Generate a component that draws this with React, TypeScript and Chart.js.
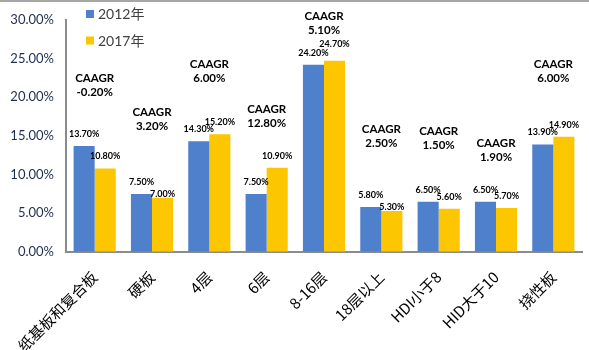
import { useEffect, useRef } from "react";
import { Chart, registerables } from "chart.js";

Chart.register(...registerables);

const categories = ["纸基板和复合板", "硬板", "4层", "6层", "8-16层", "18层以上", "HDI小于8", "HID大于10", "挠性板"];
const seriesNames = ["2012年", "2017年"];
const share2012 = [13.7, 7.5, 14.3, 7.5, 24.2, 5.8, 6.5, 6.5, 13.9];
const share2017 = [10.8, 7.0, 15.2, 10.9, 24.7, 5.3, 5.6, 5.7, 14.9];
const caagr = [-0.2, 3.2, 6.0, 12.8, 5.1, 2.5, 1.5, 1.9, 6.0];
// value level (in %) at which each CAAGR note is anchored
const caagrLevel = [22.4, 18.1, 24.2, 18.5, 30.5, 15.9, 15.6, 14.1, 24.2];
const yTicks = [0, 5, 10, 15, 20, 25, 30];

const BLUE = "#4E80CC";
const YELLOW = "#FCC600";
const LATIN = '"Lato", "Noto Sans CJK SC", sans-serif';

const annotations = {
  id: "annotations",
  afterDatasetsDraw(chart: any) {
    const { ctx, scales } = chart;
    const y = scales.y;
    const x = scales.x;
    ctx.save();
    // top frame line
    ctx.fillStyle = "#a6a6a6";
    ctx.fillRect(0, 0, chart.width, 2);

    // value labels
    ctx.font = `bold 9px ${LATIN}`;
    ctx.fillStyle = "#000";
    ctx.textAlign = "center";
    ctx.textBaseline = "middle";
    const m0 = chart.getDatasetMeta(0).data;
    const m1 = chart.getDatasetMeta(1).data;
    categories.forEach((_, i) => {
      const b0 = m0[i];
      const b1 = m1[i];
      const y0 = b0.y - 12;
      let y1 = b1.y - 12;
      if (Math.abs(y1 - y0) < 5.5) {
        if (share2017[i] < share2012[i]) y1 = b1.y - 3.5;
        else y1 = y0 - 9;
      }
      ctx.fillText(share2012[i].toFixed(2) + "%", b0.x, y0);
      ctx.fillText(share2017[i].toFixed(2) + "%", b1.x, y1);
    });

    // CAAGR notes
    ctx.font = `bold 11.5px ${LATIN}`;
    categories.forEach((_, i) => {
      const cx = x.getPixelForValue(i);
      const cy = y.getPixelForValue(caagrLevel[i]);
      ctx.fillText("CAAGR", cx, cy);
      ctx.fillText(caagr[i].toFixed(2) + "%", cx, cy + 14);
    });

    // legend
    const colors = [BLUE, YELLOW];
    ctx.font = `14px ${LATIN}`;
    ctx.textAlign = "left";
    seriesNames.forEach((name, k) => {
      const ly = 14 + k * 26.5;
      ctx.fillStyle = colors[k];
      ctx.fillRect(86, ly - 4, 8, 8);
      ctx.fillStyle = "#404040";
      ctx.fillText(name, 98, ly + 0.5);
    });
    ctx.restore();
  },
};

export default function App() {
  const ref = useRef<HTMLCanvasElement | null>(null);
  useEffect(() => {
    document.body.style.margin = "0";
    const canvas = ref.current;
    if (!canvas) return;
    const chart = new Chart(canvas, {
      type: "bar",
      data: {
        labels: categories,
        datasets: [
          { label: seriesNames[0], data: share2012, backgroundColor: BLUE, categoryPercentage: 0.735, barPercentage: 1 },
          { label: seriesNames[1], data: share2017, backgroundColor: YELLOW, categoryPercentage: 0.735, barPercentage: 1 },
        ],
      },
      options: {
        responsive: false,
        animation: false,
        layout: { padding: { top: 15, right: 7, left: 0, bottom: 0 } },
        plugins: { legend: { display: false }, tooltip: { enabled: false } },
        scales: {
          x: {
            grid: { display: true, drawOnChartArea: false, drawTicks: false, color: "transparent" },
            border: { display: true, color: "#8c8c8c", width: 2 },
            ticks: {
              minRotation: 45,
              maxRotation: 45,
              padding: 16,
              color: "#000",
              font: { family: '"Noto Sans CJK SC", "Lato", sans-serif', size: 15 },
              autoSkip: false,
            },
            afterFit: (s: any) => {
              s.height = 98;
            },
          },
          y: {
            min: 0,
            max: 30,
            afterBuildTicks: (s: any) => {
              s.ticks = yTicks.map((v) => ({ value: v }));
            },
            grid: { display: true, drawOnChartArea: false, drawTicks: false, color: "transparent" },
            border: { display: true, color: "#8c8c8c", width: 2 },
            ticks: {
              padding: 12,
              color: "#1F2D4F",
              font: { family: LATIN, size: 13 },
              callback: (v: any) => Number(v).toFixed(2) + "%",
            },
            afterFit: (s: any) => {
              s.width = 66;
            },
          },
        },
      },
      plugins: [annotations],
    });
    return () => chart.destroy();
  }, []);
  return (
    <div style={{ width: 589, height: 350, background: "#fff" }}>
      <canvas ref={ref} width={589} height={350} />
    </div>
  );
}
